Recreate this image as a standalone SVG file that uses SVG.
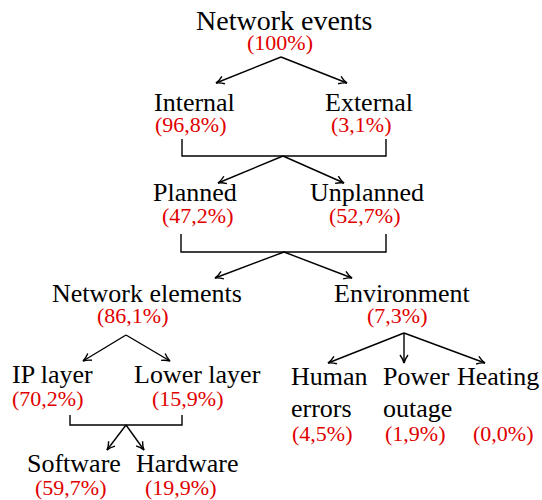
<svg xmlns="http://www.w3.org/2000/svg" width="542" height="500" viewBox="0 0 542 500">
<style>
text{font-family:"Liberation Serif",Tinos,"Times New Roman",Times,"Nimbus Roman","DejaVu Serif",serif}
.lbl{font-size:26px;fill:#000}
.ttl{font-size:28px;fill:#000}
.pct{font-size:22px;fill:#e00000}
.ln{fill:none;stroke:#000;stroke-width:1.4}
.ar{fill:none;stroke:#000;stroke-width:1.4;marker-end:url(#ah)}
</style>
<defs>
<marker id="ah" markerUnits="userSpaceOnUse" markerWidth="14" markerHeight="14" viewBox="-10 -7 14 14" refX="0" refY="0" orient="auto">
<path d="M-8,-4 Q-4,-1 0,0 Q-4,1 -8,4" fill="none" stroke="#000" stroke-width="1.4"/>
</marker>
</defs>
<rect width="542" height="500" fill="#fff"/>
<g id="connectors">
<path class="ar" d="M281,57 L216,83"/>
<path class="ar" d="M281,57 L347,83"/>
<path class="ln" d="M182,139 V156 H386 V139"/>
<path class="ar" d="M283,156 L218,183"/>
<path class="ar" d="M283,156 L344,183"/>
<path class="ln" d="M181,234 V252 H386 V234"/>
<path class="ar" d="M284,252 L215,278"/>
<path class="ar" d="M284,252 L352,278"/>
<path class="ar" d="M126,335 L83,361"/>
<path class="ar" d="M126,335 L170,361"/>
<path class="ln" d="M70,415 V425 H182 V415"/>
<path class="ar" d="M126,425 L107,450"/>
<path class="ar" d="M126,425 L144,450"/>
<path class="ar" d="M404,333 L328,363"/>
<path class="ar" d="M404,333 L404,363"/>
<path class="ar" d="M404,333 L485,363"/>
</g>
<g id="network-events"><text class="ttl" x="196" y="30" font-family="Liberation Serif">Network events</text><text class="pct" x="247" y="50">(100%)</text></g>
<g id="internal"><text class="lbl" x="154" y="111">Internal</text><text class="pct" x="155" y="132">(96,8%)</text></g>
<g id="external"><text class="lbl" x="325" y="111">External</text><text class="pct" x="331" y="132">(3,1%)</text></g>
<g id="planned"><text class="lbl" x="153" y="201">Planned</text><text class="pct" x="162" y="223">(47,2%)</text></g>
<g id="unplanned"><text class="lbl" x="310" y="201">Unplanned</text><text class="pct" x="329" y="223">(52,7%)</text></g>
<g id="network-elements"><text class="lbl" x="52" y="302">Network elements</text><text class="pct" x="97" y="323">(86,1%)</text></g>
<g id="environment"><text class="lbl" x="334" y="302">Environment</text><text class="pct" x="367" y="323">(7,3%)</text></g>
<g id="ip-layer"><text class="lbl" x="12" y="383">IP layer</text><text class="pct" x="12" y="406">(70,2%)</text></g>
<g id="lower-layer"><text class="lbl" x="134" y="383">Lower layer</text><text class="pct" x="152" y="406">(15,9%)</text></g>
<g id="software"><text class="lbl" x="27" y="472">Software</text><text class="pct" x="35" y="495">(59,7%)</text></g>
<g id="hardware"><text class="lbl" x="136" y="472">Hardware</text><text class="pct" x="145" y="495">(19,9%)</text></g>
<g id="human-errors"><text class="lbl" x="291" y="385">Human</text><text class="lbl" x="291" y="417">errors</text><text class="pct" x="292" y="441">(4,5%)</text></g>
<g id="power-outage"><text class="lbl" x="383" y="385">Power</text><text class="lbl" x="383" y="417">outage</text><text class="pct" x="385" y="441">(1,9%)</text></g>
<g id="heating"><text class="lbl" x="457" y="385">Heating</text><text class="pct" x="473" y="441">(0,0%)</text></g>
</svg>
